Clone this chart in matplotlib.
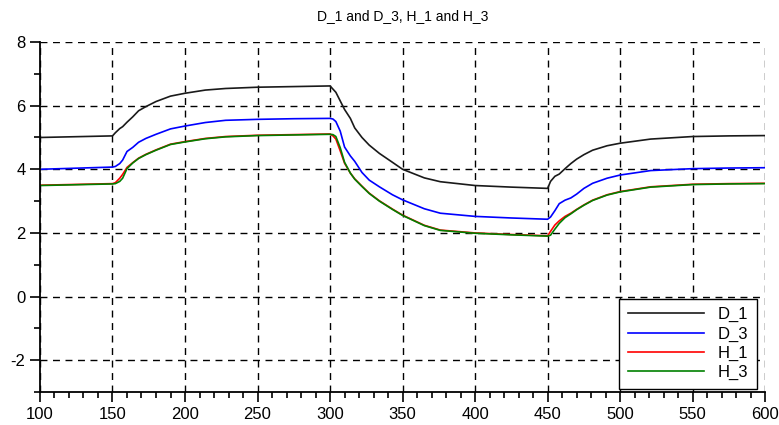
import matplotlib.pyplot as plt
from matplotlib.ticker import MultipleLocator

plt.rcParams['font.family'] = ['Liberation Sans', 'DejaVu Sans']
plt.rcParams['axes.unicode_minus'] = False

t = [100, 150, 152, 155, 157, 160, 164, 168, 173, 180, 190, 200, 214, 228, 250, 275,
     300, 302, 304, 307, 310, 314, 317, 322, 327, 334, 343, 350, 365, 376, 400, 425,
     450, 452, 455, 458, 462, 466, 470, 475, 481, 491, 500, 521, 550, 575, 600]

d_1 = [5.00, 5.05, 5.15, 5.28, 5.34, 5.48, 5.65, 5.84, 5.97, 6.13, 6.30, 6.39, 6.49, 6.54, 6.58, 6.60,
       6.62, 6.52, 6.42, 6.15, 5.88, 5.60, 5.30, 5.00, 4.76, 4.50, 4.22, 4.00, 3.73, 3.61, 3.49, 3.44,
       3.40, 3.62, 3.78, 3.85, 4.02, 4.18, 4.32, 4.46, 4.60, 4.74, 4.82, 4.95, 5.03, 5.05, 5.06]

d_3 = [4.00, 4.07, 4.09, 4.18, 4.29, 4.56, 4.69, 4.85, 4.97, 5.10, 5.27, 5.36, 5.47, 5.54, 5.57, 5.59,
       5.60, 5.58, 5.50, 5.20, 4.70, 4.42, 4.25, 3.90, 3.66, 3.45, 3.20, 3.04, 2.76, 2.62, 2.52, 2.47,
       2.43, 2.50, 2.70, 2.92, 3.03, 3.10, 3.22, 3.40, 3.56, 3.72, 3.82, 3.96, 4.02, 4.04, 4.05]

h_1 = [3.50, 3.55, 3.58, 3.72, 3.84, 4.06, 4.21, 4.35, 4.47, 4.61, 4.79, 4.87, 4.97, 5.03, 5.07, 5.09,
       5.11, 5.05, 4.95, 4.58, 4.19, 3.88, 3.70, 3.47, 3.25, 3.01, 2.75, 2.56, 2.24, 2.09, 2.00, 1.95,
       1.91, 2.05, 2.25, 2.38, 2.52, 2.62, 2.74, 2.88, 3.03, 3.20, 3.30, 3.45, 3.53, 3.55, 3.56]

h_3 = [3.49, 3.54, 3.55, 3.62, 3.72, 4.02, 4.20, 4.34, 4.46, 4.60, 4.78, 4.86, 4.96, 5.02, 5.06, 5.08,
       5.10, 5.09, 5.03, 4.68, 4.22, 3.88, 3.69, 3.46, 3.24, 3.00, 2.74, 2.55, 2.23, 2.08, 1.99, 1.94,
       1.90, 1.93, 2.12, 2.30, 2.48, 2.60, 2.73, 2.87, 3.02, 3.19, 3.29, 3.44, 3.52, 3.54, 3.55]

series = [('D_1', d_1, '#1a1a1a'), ('D_3', d_3, '#0000ff'),
          ('H_1', h_1, '#ff0000'), ('H_3', h_3, '#008000')]

fig = plt.figure(figsize=(7.79, 4.25), dpi=100)
ax = fig.add_axes([0.0513, 0.0776, 0.931, 0.8235])

for name, vals, col in series:
    ax.plot(t, vals, color=col, lw=1.2, label=name)

ax.set_xlim(100, 600)
ax.set_ylim(-3, 8)
ax.xaxis.set_major_locator(MultipleLocator(50))
ax.xaxis.set_minor_locator(MultipleLocator(10))
ax.yaxis.set_major_locator(MultipleLocator(2))
ax.yaxis.set_minor_locator(MultipleLocator(1))
ax.grid(True, which='major', color='black', linestyle=(0, (5, 4)), linewidth=1)
ax.set_axisbelow(True)

ax.spines['top'].set_visible(False)
ax.spines['right'].set_visible(False)
ax.spines['left'].set_linewidth(1.3)
ax.spines['bottom'].set_linewidth(1.3)
ax.tick_params(which='major', direction='out', length=7, width=1.2, labelsize=12)
ax.tick_params(which='minor', direction='out', length=4, width=1.2)

ax.set_title('D_1 and D_3, H_1 and H_3', fontsize=10, pad=16)

leg = ax.legend(loc='lower right', bbox_to_anchor=(0.988, 0.01), fontsize=12,
                handlelength=4.6, fancybox=False, framealpha=1, edgecolor='black',
                borderaxespad=0, labelspacing=0.25, handletextpad=0.8, borderpad=0.5)
leg.get_frame().set_linewidth(1)

fig.savefig('out.png', dpi=100)
